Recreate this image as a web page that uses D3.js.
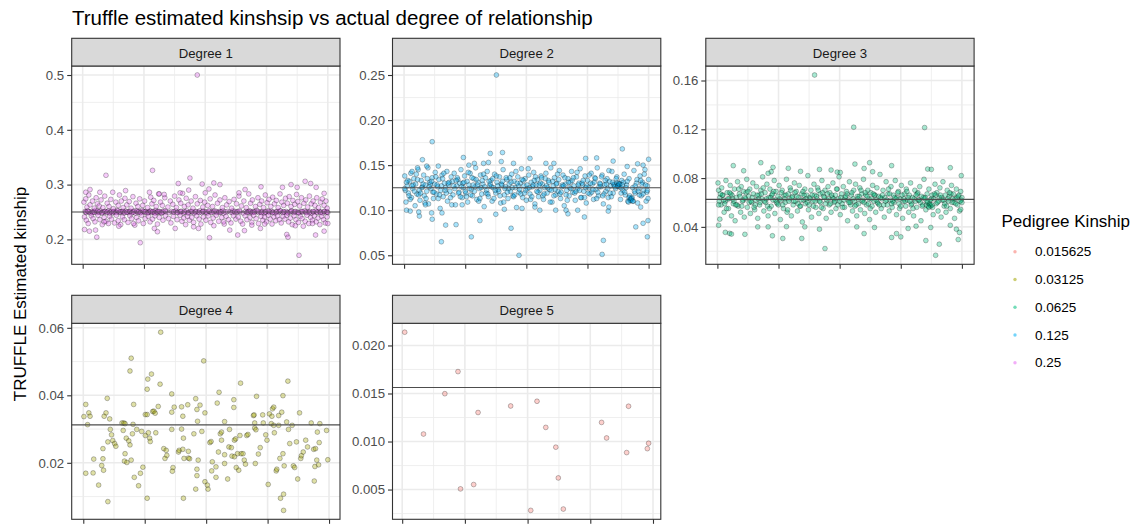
<!DOCTYPE html>
<html>
<head>
<meta charset="utf-8">
<script src="https://cdn.jsdelivr.net/npm/d3@7"></script>
<style>
  body { margin: 0; background: #fff; }
  text { font-family: "Liberation Sans", Arial, Helvetica, sans-serif; }
</style>
</head>
<body>
<svg id="chart" width="1135" height="525"></svg>
<script>
// ---- data ----
var kinshipLevels = ["0.015625", "0.03125", "0.0625", "0.125", "0.25"];
var levelColors = ["#F8766D", "#A3A500", "#00BF7D", "#00B0F6", "#E76BF3"];
var degreeNames = ["Degree 1", "Degree 2", "Degree 3", "Degree 4", "Degree 5"];
var degreeKinship = [0.25, 0.125, 0.0625, 0.03125, 0.015625];
var xTicks = [0, 100, 200, 300, 400];

var yLabels1 = ["0.2", "0.3", "0.4", "0.5"];
var yLabels2 = ["0.05", "0.10", "0.15", "0.20", "0.25"];
var yLabels3 = ["0.04", "0.08", "0.12", "0.16"];
var yLabels4 = ["0.02", "0.04", "0.06"];
var yLabels5 = ["0.005", "0.010", "0.015", "0.020"];

// Degree 1: [pair index, estimated kinship]
var degree1 = [
[4,.251],[6,.249],[8,.252],[11,.25],[13,.248],[15,.251],[18,.25],[21,.253],[23,.249],[26,.25],[29,.252],[31,.248],[34,.25],[37,.251],[39,.249],[42,.252],[45,.25],[48,.248],[51,.251],[53,.25],[56,.253],[59,.249],[62,.25],[64,.251],[67,.248],[70,.252],[73,.25],[75,.249],[78,.251],[81,.25],[84,.252],[86,.248],[89,.25],[92,.251],[95,.249],[97,.253],[100,.25],[103,.251],[105,.248],[108,.25],[110,.252],[112,.249],[115,.251],[117,.25],[119,.253],[121,.249],[123,.251],[126,.25],[129,.248],[132,.252],[136,.25],[141,.249],[145,.251],[149,.25],[152,.252],[155,.249],[158,.25],[161,.251],[164,.248],[167,.25],[170,.252],[173,.249],[176,.251],[179,.25],[182,.248],[185,.251],[188,.25],[191,.252],[194,.249],[197,.251],[200,.25],[203,.248],[207,.251],[211,.25],[215,.252],[219,.249],[223,.251],[226,.25],[230,.248],[236,.251],[241,.25],[245,.252],[249,.249],[253,.251],[257,.25],[262,.248],[266,.251],[269,.25],[272,.252],[275,.249],[278,.251],[281,.25],[284,.253],[287,.249],[290,.25],[293,.251],[296,.248],[299,.25],[302,.252],[305,.249],[308,.251],[311,.25],[314,.248],[317,.251],[320,.25],[323,.252],[326,.249],[329,.25],[332,.251],[335,.248],[338,.25],[341,.252],[344,.249],[347,.251],[350,.25],[353,.248],[356,.251],[359,.25],[362,.252],[365,.249],[368,.25],[371,.251],[374,.248],[377,.25],[380,.252],[383,.249],[386,.251],[389,.25],[392,.248],[395,.251],[398,.25],[400,.249],
[5,.25],[9,.251],[16,.249],[19,.25],[24,.252],[27,.25],[32,.249],[36,.251],[40,.25],[44,.248],[47,.251],[50,.25],[55,.249],[58,.252],[61,.25],[66,.251],[69,.249],[72,.25],[77,.251],[80,.248],[83,.25],[88,.252],[91,.25],[94,.249],[99,.251],[102,.25],[107,.249],[111,.251],[114,.25],[118,.248],[122,.25],[125,.251],[128,.249],[131,.25],[135,.252],[148,.25],[154,.249],[160,.251],[166,.25],[172,.248],[178,.251],[184,.25],[190,.249],[196,.251],[202,.25],[206,.252],[210,.249],[214,.25],[218,.251],[222,.249],[225,.25],[229,.252],[233,.25],[244,.249],[248,.251],[252,.25],[256,.252],[268,.249],[271,.25],[274,.251],[277,.249],[280,.25],[286,.251],[292,.249],[298,.25],[304,.251],[310,.249],[316,.25],[322,.252],[328,.25],[334,.249],[340,.251],[346,.25],[352,.249],[358,.251],[364,.25],[370,.249],[376,.251],[382,.25],[388,.249],[394,.251],[399,.25],
[2,.268],[5,.274],[7,.259],[10,.281],[12,.263],[16,.27],[19,.257],[22,.276],[24,.265],[27,.261],[30,.272],[33,.258],[36,.279],[40,.266],[43,.26],[46,.273],[50,.256],[54,.268],[58,.262],[60,.281],[63,.27],[66,.258],[69,.275],[72,.263],[76,.269],[79,.257],[82,.278],[87,.266],[90,.26],[93,.274],[98,.262],[101,.27],[106,.258],[111,.277],[113,.265],[116,.271],[120,.26],[124,.283],[127,.268],[130,.262],[134,.276],[139,.259],[143,.27],[147,.264],[150,.279],[153,.258],[157,.272],[160,.266],[163,.284],[166,.26],[169,.275],[172,.263],[177,.27],[180,.257],[184,.278],[187,.265],[192,.271],[196,.259],[199,.268],[204,.262],[208,.274],[212,.26],[216,.281],[220,.266],[224,.272],[228,.258],[232,.276],[235,.263],[239,.269],[243,.257],[247,.273],[251,.265],[255,.279],[259,.261],[263,.27],[267,.258],[271,.283],[274,.266],[277,.272],[282,.26],[286,.276],[289,.264],[292,.27],[295,.258],[298,.281],[301,.267],[304,.273],[307,.26],[310,.277],[313,.265],[316,.271],[319,.258],[322,.283],[325,.268],[328,.262],[331,.275],[334,.266],[337,.278],[340,.26],[343,.271],[346,.264],[349,.282],[351,.269],[354,.261],[357,.276],[361,.266],[364,.272],[367,.259],[370,.279],[373,.265],[376,.27],[379,.262],[382,.276],[385,.258],[388,.268],[391,.274],[394,.262],[397,.27],[399,.257],
[3,.241],[6,.235],[9,.229],[14,.243],[17,.238],[20,.232],[25,.244],[28,.236],[32,.227],[35,.24],[38,.233],[44,.242],[47,.237],[52,.23],[55,.244],[58,.234],[62,.227],[65,.241],[68,.236],[74,.231],[77,.243],[80,.238],[85,.226],[88,.24],[91,.234],[96,.244],[99,.229],[102,.238],[107,.242],[110,.232],[114,.237],[118,.243],[122,.228],[125,.24],[131,.235],[135,.243],[140,.238],[144,.23],[148,.242],[154,.236],[159,.244],[162,.233],[165,.239],[168,.227],[171,.242],[174,.235],[178,.24],[181,.231],[186,.243],[190,.237],[193,.228],[197,.241],[201,.235],[205,.243],[209,.231],[213,.239],[218,.244],[222,.233],[227,.24],[231,.228],[234,.242],[238,.236],[242,.23],[246,.243],[250,.237],[254,.241],[258,.233],[261,.228],[265,.243],[268,.236],[273,.24],[276,.231],[279,.244],[283,.238],[287,.229],[291,.242],[294,.235],[297,.241],[300,.232],[303,.244],[306,.237],[309,.228],[312,.241],[315,.234],[318,.243],[321,.236],[324,.23],[327,.242],[330,.237],[333,.244],[336,.232],[339,.239],[342,.227],[345,.243],[348,.236],[352,.231],[355,.242],[358,.238],[363,.233],[366,.244],[369,.229],[372,.24],[375,.235],[378,.243],[381,.232],[384,.239],[387,.227],[390,.242],[393,.236],[396,.23],[399,.241],
[187,.5],[38,.317],[114,.326],[156,.302],[175,.312],[195,.301],[5,.286],[12,.291],[28,.286],[49,.286],[70,.289],[94,.194],[23,.204],[3,.218],[11,.215],[21,.217],[109,.286],[125,.283],[133,.282],[159,.285],[173,.29],[200,.285],[122,.214],[117,.22],[59,.224],[42,.229],[35,.232],[83,.229],[151,.22],[181,.223],[189,.22],[214,.303],[224,.3],[206,.292],[265,.291],[255,.285],[291,.296],[326,.295],[340,.3],[363,.306],[350,.295],[372,.302],[381,.295],[394,.284],[207,.203],[240,.217],[253,.208],[264,.216],[290,.22],[297,.228],[333,.209],[335,.204],[353,.171],[380,.208],[394,.215],[400,.229],[214,.225],[230,.232],[276,.226],[347,.225],[360,.224],[375,.229]
];

var degree2 = [
[1,.138],[3,.109],[5,.127],[7,.119],[9,.132],[11,.141],[12,.114],[14,.124],[16,.135],[18,.105],[19,.129],[21,.118],[23,.145],[25,.122],[26,.111],[28,.133],[30,.126],[32,.139],[33,.116],[35,.128],[37,.121],[39,.147],[40,.107],[42,.131],[44,.124],[46,.136],[48,.113],[50,.129],[51,.142],[53,.118],[55,.126],[57,.134],[59,.102],[60,.122],[62,.139],[64,.115],[66,.13],[68,.125],[70,.143],[71,.11],[73,.128],[75,.121],[77,.137],[79,.132],[80,.117],[82,.141],[84,.106],[86,.127],[88,.134],[90,.12],[91,.13],[93,.145],[95,.114],[97,.125],[99,.138],[101,.119],[103,.132],[104,.109],[106,.128],[108,.141],[110,.123],[112,.116],[114,.135],[116,.126],[117,.147],[119,.112],[121,.131],[123,.124],[125,.139],[127,.118],[129,.129],[131,.104],[133,.136],[135,.122],[136,.143],[138,.115],[140,.127],[142,.133],[144,.11],[146,.125],[148,.14],[150,.119],[152,.131],[154,.123],[156,.137],[158,.108],[160,.128],[162,.145],[164,.117],[166,.126],[168,.134],[170,.113],[172,.129],[174,.121],[176,.14],[178,.116],[180,.132],[182,.125],[184,.103],[186,.137],[188,.12],[190,.13],[192,.146],[194,.114],[196,.127],[198,.135],[200,.111],[202,.124],[204,.139],[206,.118],[208,.131],[210,.126],[212,.142],[214,.107],[216,.128],[218,.134],[220,.115],[222,.122],[224,.138],[226,.129],[228,.112],[230,.125],[232,.141],[234,.119],[236,.133],[238,.123],[240,.147],[242,.109],[244,.127],[246,.136],[248,.117],[250,.13],[252,.121],[254,.144],[256,.113],[258,.126],[260,.139],[262,.105],[264,.129],[266,.122],[268,.135],[270,.116],[272,.131],[274,.143],[276,.12],[278,.127],[280,.111],[282,.137],[284,.124],[286,.13],[288,.146],[290,.114],[292,.128],[294,.121],[296,.138],[298,.108],[300,.133],[302,.125],[304,.118],[306,.141],[308,.129],[310,.112],[312,.136],[314,.123],[316,.147],[318,.116],[320,.13],[322,.126],[324,.139],[326,.107],[328,.128],[330,.121],[332,.135],[334,.114],[336,.132],[338,.127],[340,.143],[342,.119],[344,.129],[346,.124],[348,.137],[350,.128],[351,.13],[352,.126],[353,.129],[354,.112],[356,.133],[358,.122],[360,.14],[362,.117],[364,.128],[366,.11],[368,.135],[370,.113],[371,.112],[372,.111],[373,.114],[374,.125],[376,.144],[378,.119],[380,.13],[382,.108],[384,.124],[386,.138],[388,.116],[390,.131],[392,.122],[394,.145],[396,.11],[398,.127],[400,.134],
[2,.122],[6,.133],[10,.112],[15,.128],[20,.14],[24,.117],[29,.125],[34,.108],[38,.135],[43,.129],[47,.12],[52,.137],[56,.113],[61,.127],[65,.141],[69,.119],[74,.131],[78,.106],[83,.124],[87,.136],[92,.115],[96,.13],[100,.121],[105,.142],[109,.117],[113,.128],[118,.134],[122,.11],[126,.125],[130,.14],[134,.119],[139,.132],[143,.126],[147,.113],[151,.138],[155,.121],[159,.129],[163,.109],[167,.136],[171,.124],[175,.131],[179,.115],[183,.143],[187,.127],[191,.118],[195,.133],[199,.122],[203,.146],[207,.112],[211,.128],[215,.137],[219,.12],[223,.13],[227,.116],[231,.135],[235,.125],[239,.109],[243,.132],[247,.123],[251,.14],[255,.118],[259,.128],[263,.136],[267,.111],[271,.125],[275,.133],[279,.119],[283,.142],[287,.122],[291,.13],[295,.114],[299,.127],[303,.139],[307,.12],[311,.131],[315,.113],[319,.126],[323,.137],[327,.118],[331,.129],[335,.144],[339,.115],[343,.128],[347,.135],[349,.127],[355,.119],[359,.131],[363,.125],[367,.109],[369,.116],[375,.11],[377,.121],[381,.134],[385,.117],[389,.129],[393,.14],[397,.12],[399,.113],
[1,.124],[4,.131],[8,.116],[13,.127],[17,.121],[22,.134],[27,.119],[31,.129],[36,.113],[41,.126],[45,.132],[49,.12],[54,.128],[58,.117],[63,.135],[67,.122],[72,.13],[76,.114],[81,.127],[85,.133],[89,.119],[94,.126],[98,.131],[102,.115],[107,.124],[111,.136],[115,.121],[120,.128],[124,.113],[128,.133],[132,.126],[137,.118],[141,.129],[145,.135],[149,.122],[153,.127],[157,.116],[161,.132],[165,.124],[169,.12],[173,.136],[177,.125],[181,.117],[185,.13],[189,.123],[193,.134],[197,.119],[201,.128],[205,.125],[209,.115],[213,.133],[217,.121],[221,.128],[225,.136],[229,.118],[233,.127],[237,.131],[241,.122],[245,.116],[249,.129],[253,.134],[257,.12],[261,.127],[265,.117],[269,.131],[273,.124],[277,.136],[281,.121],[285,.128],[289,.114],[293,.133],[297,.125],[301,.119],[305,.13],[309,.123],[313,.135],[317,.12],[321,.129],[325,.116],[329,.133],[333,.124],[337,.119],[341,.131],[345,.126],[348,.13],[350,.127],[352,.129],[355,.125],[357,.128],[361,.12],[365,.132],[368,.114],[370,.111],[372,.113],[374,.11],[378,.127],[383,.121],[387,.133],[391,.118],[395,.128],[398,.122],
[151,.25],[46,.176],[30,.156],[97,.1585],[141,.163],[161,.164],[159,.154],[115,.152],[130,.152],[138,.153],[179,.152],[106,.15],[13,.143],[22,.147],[37,.149],[56,.149],[4,.1],[10,.099],[25,.0935],[24,.098],[45,.097],[46,.09],[62,.097],[68,.0835],[85,.084],[61,.065],[110,.0705],[124,.0885],[175,.08],[188,.05],[35,.106],[95,.106],[150,.0955],[164,.101],[193,.102],[357,.168],[206,.1575],[232,.152],[245,.152],[297,.1575],[315,.158],[342,.1545],[365,.1485],[382,.1515],[391,.15],[400,.1565],[214,.1035],[222,.1],[248,.1],[265,.1],[268,.096],[284,.1],[295,.0925],[335,.1035],[334,.099],[326,.0665],[324,.051],[387,.1035],[379,.0815],[391,.0855],[399,.0885],[398,.0705]
];

var degree3 = [
[1,.076],[2,.07],[4,.064],[6,.058],[7,.072],[9,.066],[11,.052],[13,.061],[14,.078],[16,.068],[18,.055],[19,.063],[21,.074],[23,.049],[24,.066],[26,.059],[28,.071],[29,.045],[31,.064],[33,.077],[34,.057],[36,.067],[38,.052],[39,.073],[41,.061],[43,.069],[44,.048],[46,.063],[48,.079],[49,.056],[51,.065],[53,.071],[54,.051],[56,.06],[58,.076],[59,.067],[61,.054],[63,.062],[64,.073],[66,.047],[68,.066],[69,.058],[71,.07],[73,.063],[74,.081],[76,.053],[78,.068],[79,.06],[81,.075],[83,.049],[84,.064],[86,.071],[88,.057],[89,.066],[91,.062],[93,.078],[94,.051],[96,.069],[98,.059],[99,.065],[101,.074],[103,.046],[104,.062],[106,.07],[108,.055],[109,.066],[111,.06],[113,.079],[114,.052],[116,.067],[118,.063],[119,.072],[121,.049],[123,.065],[124,.058],[126,.076],[128,.061],[129,.069],[131,.053],[133,.064],[134,.074],[136,.057],[138,.067],[139,.044],[141,.062],[143,.071],[144,.059],[146,.066],[148,.082],[149,.054],[151,.064],[153,.07],[154,.048],[156,.061],[158,.075],[159,.066],[161,.056],[163,.063],[164,.072],[166,.051],[168,.067],[169,.06],[171,.078],[173,.055],[174,.065],[176,.07],[178,.047],[179,.062],[181,.073],[183,.058],[184,.068],[186,.052],[188,.064],[189,.076],[191,.06],[193,.066],[194,.055],[196,.071],[198,.063],[199,.081],[201,.05],[203,.067],[204,.059],[206,.073],[208,.056],[209,.064],[211,.069],[213,.045],[214,.062],[216,.077],[218,.058],[219,.066],[221,.053],[223,.07],[224,.061],[226,.075],[228,.049],[229,.065],[231,.059],[233,.072],[234,.054],[236,.067],[238,.062],[239,.079],[241,.051],[243,.066],[244,.058],[246,.07],[248,.063],[249,.046],[251,.068],[253,.057],[254,.074],[256,.061],[258,.066],[259,.052],[261,.072],[263,.059],[264,.065],[266,.083],[268,.055],[269,.063],[271,.07],[273,.048],[274,.064],[276,.077],[278,.058],[279,.067],[281,.053],[283,.062],[284,.073],[286,.056],[288,.066],[289,.06],[291,.078],[293,.05],[294,.064],[296,.069],[298,.055],[299,.063],[301,.074],[303,.047],[304,.061],[306,.067],[308,.057],[309,.071],[311,.062],[313,.052],[314,.066],[316,.076],[318,.059],[319,.064],[321,.049],[323,.07],[324,.061],[326,.056],[328,.068],[329,.062],[331,.073],[333,.045],[334,.065],[336,.058],[338,.079],[339,.063],[341,.054],[343,.067],[344,.06],[346,.071],[348,.058],[349,.057],[351,.066],[353,.05],[354,.063],[356,.075],[358,.059],[359,.068],[361,.053],[363,.064],[364,.072],[366,.048],[368,.062],[369,.077],[371,.057],[373,.066],[374,.052],[376,.07],[378,.061],[379,.065],[381,.055],[383,.074],[384,.06],[386,.067],[388,.047],[389,.063],[391,.071],[393,.058],[394,.065],[396,.053],[398,.069],[399,.062],[400,.064],
[3,.061],[8,.066],[12,.059],[17,.063],[22,.067],[27,.061],[32,.058],[37,.065],[42,.062],[47,.068],[52,.06],[57,.064],[62,.058],[67,.063],[72,.067],[77,.061],[82,.057],[87,.064],[92,.069],[97,.06],[102,.063],[107,.058],[112,.066],[117,.061],[122,.064],[127,.068],[132,.059],[137,.062],[142,.066],[147,.06],[152,.063],[157,.057],[162,.065],[167,.061],[172,.068],[177,.059],[182,.063],[187,.066],[192,.061],[197,.058],[202,.064],[207,.062],[212,.067],[217,.06],[222,.063],[227,.058],[232,.065],[237,.061],[242,.068],[247,.059],[252,.063],[257,.066],[262,.06],[267,.064],[272,.058],[277,.062],[282,.067],[287,.061],[292,.063],[297,.059],[302,.066],[307,.061],[312,.064],[317,.058],[322,.063],[327,.067],[332,.06],[337,.064],[342,.058],[345,.057],[347,.059],[350,.063],[352,.056],[357,.066],[362,.061],[367,.064],[372,.059],[377,.063],[382,.067],[387,.06],[392,.064],[397,.061],
[2,.058],[5,.067],[10,.062],[15,.055],[20,.068],[25,.063],[30,.058],[35,.071],[40,.057],[45,.064],[50,.069],[55,.061],[60,.056],[65,.066],[70,.06],[75,.072],[80,.063],[85,.055],[90,.067],[95,.062],[100,.058],[105,.068],[110,.063],[115,.054],[120,.07],[125,.061],[130,.065],[135,.057],[140,.069],[145,.063],[150,.058],[155,.066],[160,.061],[165,.07],[170,.056],[175,.064],[180,.067],[185,.059],[190,.063],[195,.071],[200,.061],[205,.056],[210,.065],[215,.06],[220,.068],[225,.057],[230,.063],[235,.07],[240,.06],[245,.065],[250,.055],[255,.067],[260,.062],[265,.058],[270,.066],[275,.061],[280,.071],[285,.059],[290,.064],[295,.068],[300,.057],[305,.063],[310,.069],[315,.061],[320,.055],[325,.066],[330,.062],[335,.057],[340,.064],[343,.061],[346,.056],[348,.062],[351,.058],[355,.067],[360,.06],[365,.066],[370,.062],[375,.057],[380,.068],[385,.063],[390,.059],[395,.066],[400,.06],
[159,.1645],[223,.1217],[339,.1214],[26,.0902],[71,.0926],[116,.088],[136,.0855],[167,.0871],[186,.0866],[196,.0849],[201,.0846],[225,.0915],[249,.0926],[240,.0879],[254,.0852],[285,.0902],[344,.0874],[350,.0871],[381,.0885],[399,.082],[43,.086],[88,.0852],[91,.0888],[83,.0839],[4,.0463],[2,.0413],[13,.0355],[20,.0347],[23,.0341],[45,.0339],[66,.04],[83,.04],[90,.0327],[107,.0305],[138,.0305],[113,.0402],[143,.04],[167,.0381],[176,.0222],[228,.04],[240,.0345],[257,.0395],[285,.0313],[293,.0345],[300,.0318],[312,.0387],[325,.0406],[341,.0288],[349,.0395],[363,.0258],[357,.0167],[394,.0296],[396,.0354],[391,.0381],[398,.0543],[381,.0413]
];

var degree4 = [
[1,.0337],[4,.0373],[9,.0348],[11,.0338],[7,.0313],[4,.0169],[16,.017],[17,.0211],[25,.0134],[30,.0192],[32,.0212],[33,.0178],[32,.0242],[34,.0338],[37,.0348],[39,.0391],[40,.0085],[40,.0262],[43,.033],[44,.0299],[46,.0283],[48,.0266],[51,.0257],[53,.0249],
[63,.0318],[66,.0318],[68,.0316],[65,.0296],[70,.0273],[74,.0265],[76,.0253],[68,.0227],[67,.0205],[71,.0201],[78,.0208],[76,.0472],[78,.051],[82,.0373],[81,.0314],[80,.0286],[83,.0157],[87,.0299],[90,.0132],[93,.0169],[95,.0293],[97,.0187],[101,.0343],[104,.0343],[101,.0281],[106,.0289],[108,.0273],[109,.0263],[104,.0418],[105,.0448],[111,.0463],[104,.0095],
[113,.0352],[115,.0353],[117,.0347],[118,.0289],[122,.0367],[125,.0433],[126,.0587],[131,.0242],[133,.0213],[135,.0237],[136,.0222],[144,.0404],[144,.035],[148,.0365],[144,.0299],[146,.0186],[145,.0175],[155,.0232],[156,.0237],[160,.0366],[162,.0338],[160,.03],[163,.0273],[164,.0213],[162,.024],[163,.0095],[170,.0372],[171,.0234],[171,.0214],[173,.0212],
[180,.0286],[183,.039],[185,.0358],[186,.0323],[187,.0208],[185,.0181],[185,.0162],[183,.0122],[190,.0371],[193,.0293],[196,.0502],[198,.0348],[198,.0144],[202,.0134],[203,.0122],[206,.026],[208,.0263],[209,.0176],[210,.0203],[216,.0188],[216,.0157],[218,.0377],[221,.0409],[220,.0232],[223,.0286],[225,.0291],[225,.0267],[230,.0322],[230,.0224],[230,.0198],[235,.0152],[237,.0247],[238,.0299],[241,.0245],[242,.022],[245,.0364],[245,.0387],[246,.0267],[246,.0218],[248,.0271],[249,.0186],[251,.0227],[253,.0178],[255,.0281],[256,.0436],[257,.0227],[260,.0227],[262,.0208],[264,.0196],[266,.0281],[268,.0284],
[277,.034],[278,.0342],[279,.0318],[279,.0303],[281,.0298],[280,.0198],[282,.0397],[285,.0226],[288,.0245],[292,.0342],[293,.0318],[297,.0283],[299,.0267],[301,.0136],[303,.0345],[306,.0316],[307,.0338],[308,.036],[310,.0365],[310,.0311],[311,.0289],[314,.0176],[315,.0181],[318,.034],[318,.0311],[320,.0213],[321,.0095],[323,.035],[325,.0399],[325,.0227],[326,.0107],[326,.0059],[327,.0191],[331,.0321],[333,.0442],[334,.0299],[336,.0257],[340,.0311],[342,.0191],[344,.0186],[347,.0262],[349,.0152],[352,.0348],[354,.0213],[355,.0221],[358,.0232],[362,.0267],[365,.0247],[371,.0318],[375,.024],[376,.0146],[377,.0189],[378,.0242],[380,.0208],[381,.0291],[383,.0194],[384,.026],[385,.0316],[396,.0296],[398,.0209]
];

var degree5 = [
[4,.02138],[34,.01078],[68,.01498],[89,.01728],[93,.00507],[114,.00552],[121,.01302],[173,.0137],[205,.00283],[215,.01419],[229,.01147],[245,.00941],[249,.00621],[257,.00297],[318,.01199],[326,.01037],[358,.00885],[361,.01367],[391,.00926],[393,.00982]
];

// ---- layout ----
var svg = d3.select("#chart");
var colLeft = [71.7, 392.5, 705.8];
var panelW = 268.3;
var rows = [
  { stripTop: 38.3, top: 66, bottom: 264.3 },
  { stripTop: 295.3, top: 323.3, bottom: 519.3 }
];

var panels = [
  { data: degree1, labels: yLabels1, col: 0, row: 0, level: 4 },
  { data: degree2, labels: yLabels2, col: 1, row: 0, level: 3 },
  { data: degree3, labels: yLabels3, col: 2, row: 0, level: 2 },
  { data: degree4, labels: yLabels4, col: 0, row: 1, level: 1 },
  { data: degree5, labels: yLabels5, col: 1, row: 1, level: 0 }
];

function expand(ext) {
  var pad = (ext[1] - ext[0]) * 0.05;
  return [ext[0] - pad, ext[1] + pad];
}

function minorBreaks(vals, dom) {
  var out = [];
  var step = vals[1] - vals[0];
  var all = [vals[0] - step].concat(vals).concat([vals[vals.length - 1] + step]);
  for (var i = 0; i < all.length - 1; i++) {
    var m = (all[i] + all[i + 1]) / 2;
    if (m > dom[0] && m < dom[1]) out.push(m);
  }
  return out;
}

panels.forEach(function(p, idx) {
  var r = rows[p.row];
  var x0 = colLeft[p.col], x1 = x0 + panelW;
  var yVals = p.labels.map(Number);

  var x = d3.scaleLinear()
    .domain(expand(d3.extent(p.data, function(d) { return d[0]; })))
    .range([x0, x1]);
  var y = d3.scaleLinear()
    .domain(expand(d3.extent(p.data, function(d) { return d[1]; })))
    .range([r.bottom, r.top]);

  var g = svg.append("g");

  g.append("rect")
    .attr("x", x0).attr("y", r.top)
    .attr("width", panelW).attr("height", r.bottom - r.top)
    .attr("fill", "#fff");

  // minor grid
  var grid = g.append("g").attr("stroke", "#EBEBEB").attr("fill", "none");
  grid.selectAll(".ymin").data(minorBreaks(yVals, y.domain())).enter().append("line")
    .attr("x1", x0).attr("x2", x1)
    .attr("y1", function(d) { return y(d); }).attr("y2", function(d) { return y(d); })
    .attr("stroke-width", 0.8);
  grid.selectAll(".xmin").data(minorBreaks(xTicks, x.domain())).enter().append("line")
    .attr("y1", r.top).attr("y2", r.bottom)
    .attr("x1", function(d) { return x(d); }).attr("x2", function(d) { return x(d); })
    .attr("stroke-width", 0.8);
  // major grid
  grid.selectAll(".ymaj").data(yVals).enter().append("line")
    .attr("x1", x0).attr("x2", x1)
    .attr("y1", function(d) { return y(d); }).attr("y2", function(d) { return y(d); })
    .attr("stroke-width", 1.6);
  grid.selectAll(".xmaj").data(xTicks).enter().append("line")
    .attr("y1", r.top).attr("y2", r.bottom)
    .attr("x1", function(d) { return x(d); }).attr("x2", function(d) { return x(d); })
    .attr("stroke-width", 1.6);

  // points
  g.append("g").selectAll("circle").data(p.data).enter().append("circle")
    .attr("cx", function(d) { return x(d[0]); })
    .attr("cy", function(d) { return y(d[1]); })
    .attr("r", 2.4)
    .attr("fill", levelColors[p.level])
    .attr("fill-opacity", 0.35)
    .attr("stroke", "#000")
    .attr("stroke-opacity", 0.33)
    .attr("stroke-width", 0.8);

  // expected kinship line
  g.append("line")
    .attr("x1", x0).attr("x2", x1)
    .attr("y1", y(degreeKinship[idx])).attr("y2", y(degreeKinship[idx]))
    .attr("stroke", "#4d4d4d").attr("stroke-width", 1.1);

  // border
  g.append("rect")
    .attr("x", x0).attr("y", r.top)
    .attr("width", panelW).attr("height", r.bottom - r.top)
    .attr("fill", "none").attr("stroke", "#333").attr("stroke-width", 1.1);

  // strip
  g.append("rect")
    .attr("x", x0).attr("y", r.stripTop)
    .attr("width", panelW).attr("height", r.top - r.stripTop)
    .attr("fill", "#D9D9D9").attr("stroke", "#333").attr("stroke-width", 1.1);
  g.append("text")
    .attr("x", x0 + panelW / 2).attr("y", r.stripTop + 19.5)
    .attr("text-anchor", "middle")
    .attr("font-size", 13.2).attr("fill", "#1A1A1A")
    .text(degreeNames[idx]);

  // axes
  var ya = g.append("g").attr("transform", "translate(" + x0 + ",0)")
    .call(d3.axisLeft(y).tickValues(yVals)
      .tickFormat(function(d, i) { return p.labels[i]; })
      .tickSize(4.5).tickPadding(3));
  var xa = g.append("g").attr("transform", "translate(0," + r.bottom + ")")
    .call(d3.axisBottom(x).tickValues(xTicks).tickFormat("").tickSize(4.5));
  [ya, xa].forEach(function(a) {
    a.select(".domain").remove();
    a.selectAll(".tick line").attr("stroke", "#333").attr("stroke-width", 1.1);
    a.selectAll(".tick text")
      .attr("fill", "#4D4D4D")
      .style("font-family", "'Liberation Sans', Arial, sans-serif")
      .style("font-size", "13.2px");
  });
});

// title
svg.append("text")
  .attr("x", 72).attr("y", 25)
  .attr("font-size", 20.5).attr("fill", "#000")
  .text("Truffle estimated kinshsip vs actual degree of relationship");

// y axis title
svg.append("text")
  .attr("transform", "translate(26,294) rotate(-90)")
  .attr("text-anchor", "middle")
  .attr("font-size", 17).attr("fill", "#000")
  .text("TRUFFLE Estimated kinship");

// legend
var legend = svg.append("g");
legend.append("text")
  .attr("x", 1001.5).attr("y", 226.5)
  .attr("font-size", 17).attr("fill", "#000")
  .text("Pedigree Kinship");
var items = legend.selectAll(".item").data(kinshipLevels).enter().append("g")
  .attr("transform", function(d, i) { return "translate(1015," + (251.7 + i * 27.75) + ")"; });
items.append("circle")
  .attr("r", 1.7)
  .attr("fill", function(d, i) { return levelColors[i]; })
  .attr("fill-opacity", 0.55);
items.append("text")
  .attr("x", 20).attr("y", 4.7)
  .attr("font-size", 13.5).attr("fill", "#000")
  .text(function(d) { return d; });
</script>
</body>
</html>
